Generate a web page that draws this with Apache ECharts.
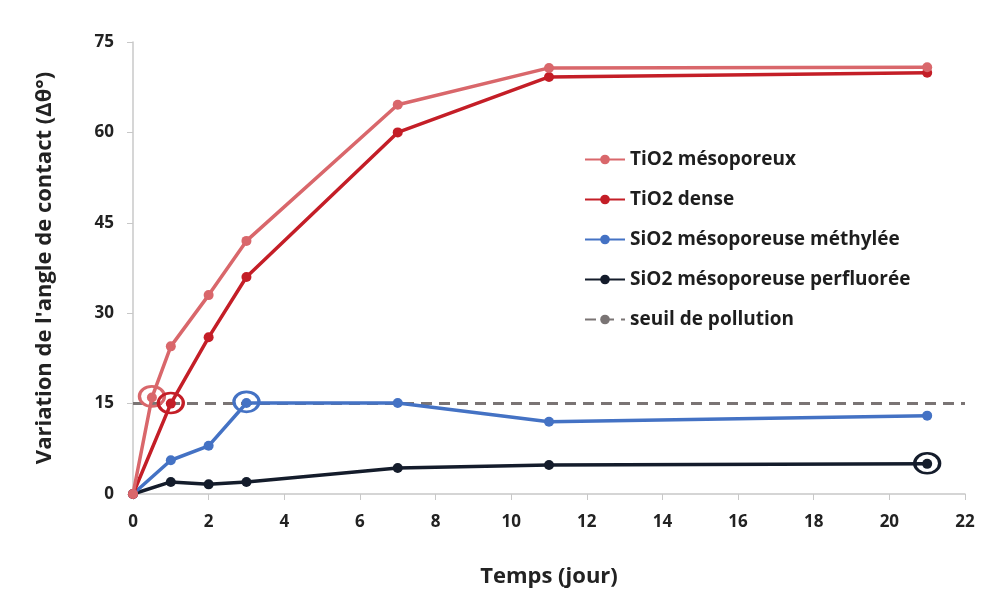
<!DOCTYPE html>
<html><head><meta charset="utf-8">
<script src="https://cdn.jsdelivr.net/npm/echarts@6/dist/echarts.min.js"></script>
<style>html,body{margin:0;padding:0;background:#fff}#c{width:988px;height:596px}</style>
</head><body><div id="c"></div>
<script>
const xTiMeso = [0, 0.5, 1, 2, 3, 7, 11, 21];
const yTiMeso = [0, 16, 24.5, 33, 42, 64.6, 70.7, 70.8];
const xTiDense = [0, 1, 2, 3, 7, 11, 21];
const yTiDense = [0, 15, 26, 36, 60, 69.2, 69.9];
const xSiMeth = [0, 1, 2, 3, 7, 11, 21];
const ySiMeth = [0, 5.6, 8, 15.1, 15.1, 12, 13];
const xSiPerf = [0, 1, 2, 3, 7, 11, 21];
const ySiPerf = [0, 2, 1.6, 2, 4.3, 4.8, 5];
const xSeuil = [0, 22];
const ySeuil = [15, 15];
const names = ['TiO2 mésoporeux', 'TiO2 dense', 'SiO2 mésoporeuse méthylée', 'SiO2 mésoporeuse perfluorée', 'seuil de pollution'];
const colors = ['#d9676b', '#c41e27', '#4472c4', '#141c2b', '#7a7474'];
const highlights = [[0.5, 16.2], [1, 15.1], [3, 15.3], [21, 5.1]];

const font = '"Open Sans", "DejaVu Sans", sans-serif';
function pairs(xs, ys){ return xs.map((x,i)=>[x, ys[i]]); }
function mk(i, xs, ys){
  return {
    name: names[i], type: 'line', data: pairs(xs, ys),
    symbol: 'circle', symbolSize: 10,
    lineStyle: {width: 3.5, color: colors[i]},
    itemStyle: {color: colors[i]},
    z: 10 - i,
    markPoint: {
      symbol: 'circle', symbolSize: [25, 20],
      itemStyle: {color: 'rgba(0,0,0,0)', borderColor: colors[i], borderWidth: 3},
      label: {show: false},
      data: [{coord: highlights[i]}]
    }
  };
}
const chart = echarts.init(document.getElementById('c'));
chart.setOption({
  backgroundColor: '#fff',
  animation: false,
  grid: {left: 133, right: 23, top: 42, bottom: 102},
  legend: {
    orient: 'vertical', left: 579, top: 145, itemGap: 21,
    itemWidth: 40, itemHeight: 12,
    textStyle: {fontFamily: font, fontWeight: 'bold', fontSize: 19, color: '#1e1e1e'},
    data: names
  },
  xAxis: {
    type: 'value', min: 0, max: 22, interval: 2,
    name: 'Temps (jour)', nameLocation: 'middle', nameGap: 72,
    nameTextStyle: {fontFamily: font, fontWeight: 'bold', fontSize: 22, color: '#222'},
    axisLine: {lineStyle: {color: '#c8c8c8', width: 1.5}},
    axisTick: {show: true, length: 6, lineStyle: {color: '#c8c8c8'}},
    axisLabel: {fontFamily: font, fontWeight: 'bold', fontSize: 17, color: '#222', margin: 20},
    splitLine: {show: false}
  },
  yAxis: {
    type: 'value', min: 0, max: 75, interval: 15,
    name: "Variation de l'angle de contact (Δθ°)", nameLocation: 'middle', nameGap: 77,
    nameTextStyle: {fontFamily: font, fontWeight: 'bold', fontSize: 22, color: '#222'},
    axisLine: {show: true, lineStyle: {color: '#c8c8c8', width: 1.5}},
    axisTick: {show: true, length: 6, lineStyle: {color: '#c8c8c8'}},
    axisLabel: {fontFamily: font, fontWeight: 'bold', fontSize: 17, color: '#222', margin: 19},
    splitLine: {show: false}
  },
  series: [
    mk(0, xTiMeso, yTiMeso),
    mk(1, xTiDense, yTiDense),
    mk(2, xSiMeth, ySiMeth),
    mk(3, xSiPerf, ySiPerf),
    {
      name: names[4], type: 'line', data: pairs(xSeuil, ySeuil),
      symbol: 'none', z: 3,
      lineStyle: {width: 3, color: colors[4], type: [11, 7]},
      itemStyle: {color: colors[4]}
    }
  ]
});
</script></body></html>
